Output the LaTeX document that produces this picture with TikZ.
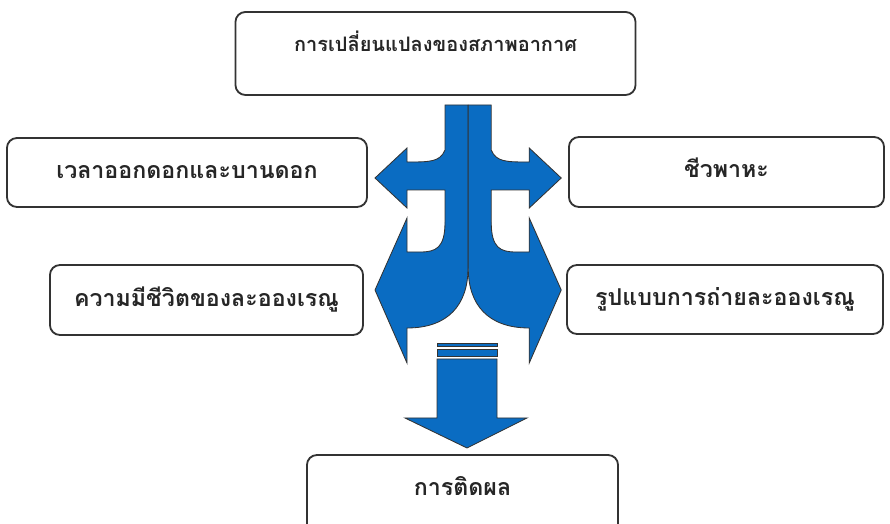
\documentclass[tikz,border=0pt]{standalone}
\usepackage{fontspec}
\usepackage{tikz}
\usetikzlibrary{positioning}
\newfontfamily\thaifont[Script=Thai]{Loma}
\definecolor{mBlue}{HTML}{0A6CC2}
\definecolor{mEdge}{HTML}{333333}

% one half of the split arrow, centre line at x=468
\newcommand{\halfsplit}{%
  \filldraw[split] (468,105) -- (445,105) -- (445,150)
    .. controls (440,162) and (430,162) .. (407,162) -- (407,148) -- (375,178)
    -- (407,208) -- (407,190) -- (445,190) -- (445,222)
    .. controls (445,248) and (436,252) .. (420,252) -- (407,252) -- (407,218)
    -- (375,290) -- (407,363) -- (407,328)
    .. controls (448,328) and (468,305) .. (468,268) -- cycle;}

\begin{document}
\begin{tikzpicture}[x=0.025cm, y=-0.025cm,
    box/.style={draw=mEdge, line width=1.3pt, rounded corners=0.25cm,
      text=black!85, font=\thaifont\bfseries\fontsize{16.5}{19}\selectfont,
      text height=0.45cm, text depth=0.15cm},
    split/.style={fill=mBlue, draw=black!80, line width=0.6pt}]
    \clip (0,0) rectangle (890,524);

    % boxes
    \node[box, minimum width=10.0cm, minimum height=2.075cm, text depth=0.55cm,
      font=\thaifont\bfseries\fontsize{14.2}{17}\selectfont]
      (climate) at (435.5,53.5) {การเปลี่ยนแปลงของสภาพอากาศ};
    \node[box, minimum width=9.0cm, minimum height=1.725cm]
      (bloom) at (187,172.5) {เวลาออกดอกและบานดอก};
    \node[box, minimum width=7.875cm, minimum height=1.75cm]
      (vector) at (726.5,172) {ชีวพาหะ};
    \node[box, minimum width=7.825cm, minimum height=1.75cm]
      (viable) at (206.5,300) {ความมีชีวิตของละอองเรณู};
    \node[box, minimum width=7.9cm, minimum height=1.725cm]
      (pattern) at (725,299.5) {รูปแบบการถ่ายละอองเรณู};
    \node[box, minimum width=7.775cm, minimum height=2.0cm, text depth=0.4cm]
      (fruit) at (462.5,495) {การติดผล};

    % split arrow
    \halfsplit
    \begin{scope}[xshift=23.4cm, xscale=-1]
      \halfsplit
    \end{scope}

    % down arrow
    \filldraw[split] (437,343) rectangle (497,346);
    \filldraw[split] (437,349) rectangle (497,356);
    \filldraw[split] (437,359) -- (497,359) -- (497,418) -- (527,418)
      -- (467,448) -- (405,418) -- (437,418) -- cycle;
\end{tikzpicture}
\end{document}
